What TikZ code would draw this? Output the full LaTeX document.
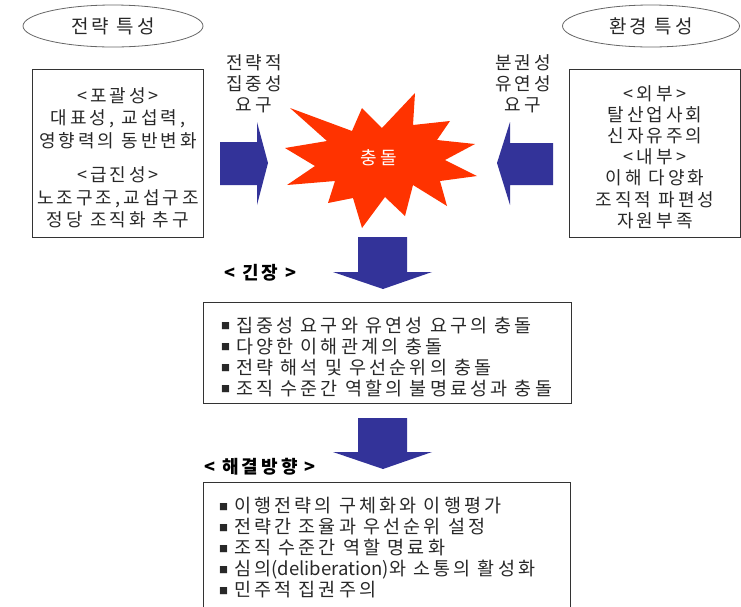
\documentclass[tikz,border=0pt]{standalone}
\usepackage{fontspec}
\setmainfont{Noto Sans CJK KR}[LetterSpace=17]
\newfontfamily\plainlatin{Noto Sans CJK KR}
\usetikzlibrary{shapes.geometric}
\definecolor{arrowblue}{RGB}{51,51,153}
\definecolor{burstred}{RGB}{255,51,0}
\definecolor{inkgray}{RGB}{40,40,40}
\tikzset{
  txt/.style={font=\fontsize{18}{22.5}\selectfont, text=inkgray, inner sep=0pt, align=center},
  listtxt/.style={font=\fontsize{18.5}{21}\selectfont, text=inkgray, inner sep=0pt, align=left},
  headtxt/.style={font=\fontsize{18}{20}\selectfont\bfseries, text=black, inner sep=0pt},
  framebox/.style={draw=black!80, line width=0.8pt, inner sep=0pt},
  ovalbox/.style={ellipse, draw=black!60, line width=0.8pt, inner sep=0pt},
  blockarrow/.style={fill=arrowblue}
}
\newcommand{\bulsq}{{\plainlatin\fontsize{9}{9}\selectfont\raisebox{2.5pt}{■}}\hspace{6pt}}
\begin{document}
\begin{tikzpicture}[x=1pt,y=-1pt]
\useasboundingbox (0,0) rectangle (741,606);
\clip (0,0) rectangle (741,606);

% ellipses
\node[ovalbox, minimum width=180, minimum height=42] (lell) at (113,26) {};
\node[txt, font=\fontsize{19}{22}\selectfont] (lelltxt) at (lell.center) {전략 특성};
\node[ovalbox, minimum width=177, minimum height=42] (rell) at (651,26) {};
\node[txt, font=\fontsize{19}{22}\selectfont] (relltxt) at (rell.center) {환경 특성};

% side boxes
\node[framebox, minimum width=171, minimum height=168, anchor=north west] (lbox) at (32,69) {};
\node[txt] (lboxtxt) at (118,158) {<포괄성>\\대표성, 교섭력,\\영향력의 동반변화\\[12pt]<급진성>\\노조구조,교섭구조\\정당 조직화 추구};
\node[framebox, minimum width=171, minimum height=168, anchor=north west] (rbox) at (569,69) {};
\node[txt, font=\fontsize{18}{21.2}\selectfont] (rboxtxt) at (655,157) {<외부>\\탈산업사회\\신자유주의\\<내부>\\이해 다양화\\조직적 파편성\\자원부족};

% demand labels
\node[txt, font=\fontsize{18}{21}\selectfont] (ldem) at (254,84) {전략적\\집중성\\요구};
\node[txt, font=\fontsize{18}{21}\selectfont] (rdem) at (523,84) {분권성\\유연성\\요구};

% burst
\coordinate (burst) at (379,158);
\fill[burstred] (290,108) -- (352,131) -- (362,108) -- (382,128) -- (415,93) -- (413,125)
  -- (450,121) -- (437,140) -- (475,144) -- (445,160) -- (477,176) -- (440,181)
  -- (447,206) -- (413,185) -- (405,216) -- (385,197) -- (362,228) -- (353,198)
  -- (328,203) -- (335,181) -- (287,185) -- (315,166) -- (285,148) -- (327,141) -- cycle;
\node[txt, text=white, font=\fontsize{18}{20}\selectfont] (bursttxt) at (burst) {충돌};

% side arrows
\fill[blockarrow] (220,142) -- (257,142) -- (257,122) -- (268,163) -- (257,205) -- (257,185) -- (220,185) -- cycle;
\fill[blockarrow] (553,143) -- (510,143) -- (510,122) -- (497,163) -- (510,205) -- (510,185) -- (553,185) -- cycle;

% down arrow 1
\fill[blockarrow] (358,237) -- (407,237) -- (407,272) -- (432,272) -- (383,289) -- (333,272) -- (358,272) -- cycle;

% tension
\node[headtxt, anchor=west] (tenlbl) at (224,273) {< 긴장 >};
\node[framebox, minimum width=368, minimum height=101, anchor=north west] (tenbox) at (203,302) {};
\node[listtxt, anchor=west] (tentxt) at (221,357) {\bulsq 집중성 요구와 유연성 요구의 충돌\\\bulsq 다양한 이해관계의 충돌\\\bulsq 전략 해석 및 우선순위의 충돌\\\bulsq 조직 수준간 역할의 불명료성과 충돌};

% down arrow 2
\fill[blockarrow] (358,418) -- (407,418) -- (407,452) -- (432,452) -- (383,469) -- (333,452) -- (358,452) -- cycle;

% resolution
\node[headtxt, anchor=west] (reslbl) at (204,467) {< 해결방향 >};
\node[framebox, minimum width=367, minimum height=140, anchor=north west] (resbox) at (203,482) {};
\node[listtxt, anchor=north west] (restxt) at (219,497) {\bulsq 이행전략의 구체화와 이행평가\\\bulsq 전략간 조율과 우선순위 설정\\\bulsq 조직 수준간 역할 명료화\\\bulsq 심의{\plainlatin(deliberation)}와 소통의 활성화\\\bulsq 민주적 집권주의};
\end{tikzpicture}
\end{document}
